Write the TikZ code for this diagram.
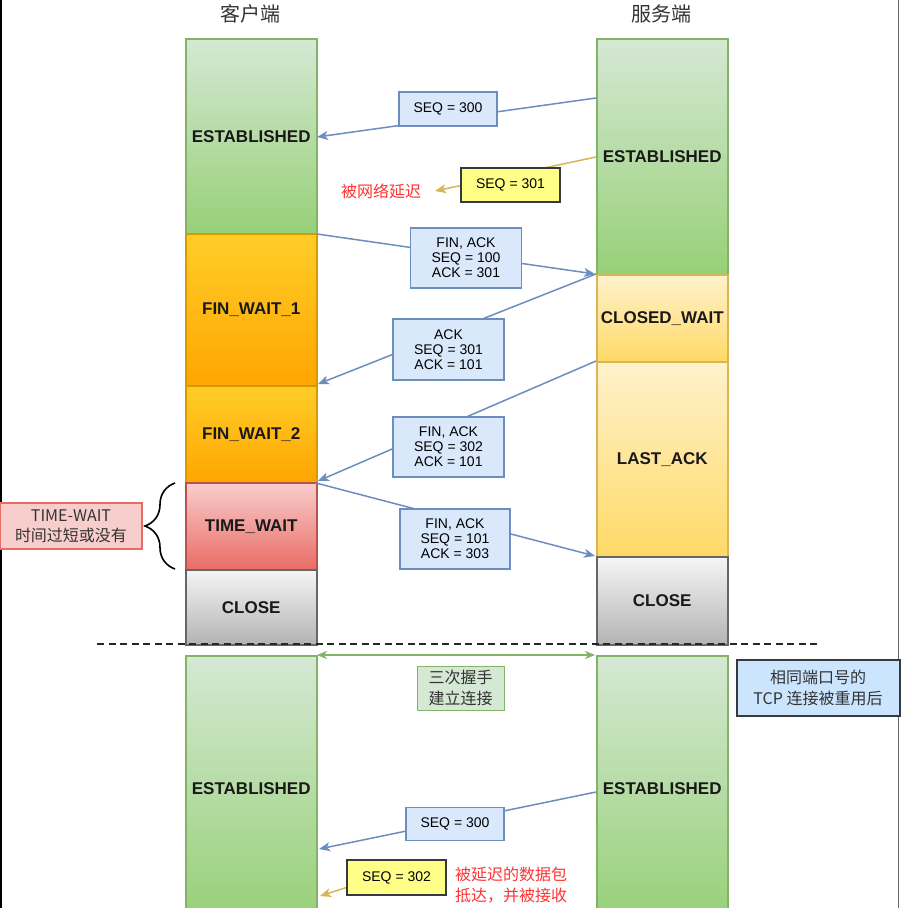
\documentclass[tikz,border=0pt]{standalone}
\usepackage{fontspec}
\setmainfont{Liberation Sans}
\newfontfamily\cjk{Noto Sans CJK SC}
\usetikzlibrary{arrows.meta,decorations.pathreplacing}
\definecolor{grnT}{HTML}{D5E8D4}\definecolor{grnBo}{HTML}{97D077}\definecolor{grnD}{HTML}{82B366}
\definecolor{orT}{HTML}{FFCD28}\definecolor{orBo}{HTML}{FFA500}\definecolor{orD}{HTML}{D79B00}
\definecolor{ylT}{HTML}{FFF2CC}\definecolor{ylBo}{HTML}{FFD966}\definecolor{ylD}{HTML}{D6B656}
\definecolor{rdT}{HTML}{F8CECC}\definecolor{rdBo}{HTML}{EA6B66}\definecolor{rdD}{HTML}{B85450}
\definecolor{gyT}{HTML}{F5F5F5}\definecolor{gyBo}{HTML}{B3B3B3}\definecolor{gyD}{HTML}{666666}
\definecolor{blF}{HTML}{DAE8FC}\definecolor{blD}{HTML}{6C8EBF}\definecolor{blF2}{HTML}{CCE5FF}
\definecolor{ntF}{HTML}{FFFF88}\definecolor{ntD}{HTML}{36393D}
\definecolor{redtxt}{HTML}{FF3333}
\begin{document}
\begin{tikzpicture}[x=1pt,y=-1pt,
  col/.style={line width=1.5pt, minimum width=131pt, inner sep=0pt, anchor=north west,
    font=\bfseries\fontsize{17}{20}\selectfont, text=black!90},
  gst/.style={col, draw=grnD, top color=grnT, bottom color=grnBo},
  ost/.style={col, draw=orD, top color=orT, bottom color=orBo},
  yst/.style={col, draw=ylD, top color=ylT, bottom color=ylBo},
  rst/.style={col, draw=rdD, top color=rdT, bottom color=rdBo},
  cst/.style={col, draw=gyD, top color=gyT, bottom color=gyBo},
  msgbox/.style={draw=blD, fill=blF, line width=1.5pt, inner sep=0pt, align=center,
    font=\fontsize{14}{15}\selectfont},
  notebox/.style={draw=ntD, fill=ntF, line width=1.5pt, inner sep=0pt, align=center,
    font=\fontsize{14}{15}\selectfont},
  msg/.style={draw=blD, line width=1.5pt, -{Stealth[length=11pt,width=9pt,inset=3pt]}},
  gmsg/.style={draw=ylD, line width=1.5pt, -{Stealth[length=11pt,width=9pt,inset=3pt]}},
  title/.style={font=\cjk\fontsize{20}{24}\selectfont, text=black!80},
  redlabel/.style={font=\cjk\fontsize{16}{21}\selectfont, text=redtxt, align=left},
]
\clip (0,0) rectangle (902,908);
\fill[white] (0,0) rectangle (902,908);
\draw[black, line width=2pt] (1,0) -- (1,908);
\draw[black!60, line width=1pt] (898,0) -- (898,908);

% titles
\node[title] (tc) at (250,14) {客户端};
\node[title] (ts) at (661,14) {服务端};

% client column
\node[gst, minimum height=195] (c1) at (185,38) {ESTABLISHED};
\node[ost, minimum height=152] (c2) at (185,233) {FIN\_WAIT\_1};
\node[ost, minimum height=97] (c3) at (185,385) {FIN\_WAIT\_2};
\node[rst, minimum height=87] (c4) at (185,482) {TIME\_WAIT};
\node[cst, minimum height=75] (c5) at (185,569) {CLOSE};

% server column
\node[gst, minimum height=236] (s1) at (596,38) {ESTABLISHED};
\node[yst, minimum height=87] (s2) at (596,274) {CLOSED\_WAIT};
\node[yst, minimum height=195] (s3) at (596,361) {LAST\_ACK};
\node[cst, minimum height=88] (s4) at (596,556) {CLOSE};

% connectors
\coordinate (a1s) at (596,98);  \coordinate (a1c) at (317,137);
\coordinate (a2s) at (596,157); \coordinate (a2e) at (435,191);
\coordinate (a3c) at (317,234); \coordinate (a3s) at (595,274);
\coordinate (a4s) at (596,274); \coordinate (a4c) at (318,384);
\coordinate (a5s) at (596,361); \coordinate (a5c) at (318,481);
\coordinate (a6c) at (316,483); \coordinate (a6s) at (595,556);
\draw[msg] (a1s) -- (a1c);
\draw[gmsg] (a2s) -- (a2e);
\draw[msg] (a3c) -- (a3s);
\draw[msg] (a4s) -- (a4c);
\draw[msg] (a5s) -- (a5c);
\draw[msg] (a6c) -- (a6s);

% message boxes
\node[msgbox, minimum width=98, minimum height=34] (m1) at (448,109) {SEQ = 300};
\node[notebox, minimum width=99, minimum height=34] (m2) at (510.5,185) {SEQ = 301};
\node[redlabel] (l1) at (381,191) {被网络延迟};
\node[msgbox, minimum width=111, minimum height=60] (m3) at (466,258) {FIN, ACK\\SEQ = 100\\ ACK = 301};
\node[msgbox, minimum width=111, minimum height=61] (m4) at (448.5,349.5) {ACK\\SEQ = 301\\ ACK = 101};
\node[msgbox, minimum width=111, minimum height=60] (m5) at (448.5,447) {FIN, ACK\\SEQ = 302\\ ACK = 101};
\node[msgbox, minimum width=110, minimum height=60] (m6) at (455,539) {FIN, ACK\\SEQ = 101\\ ACK = 303};

% TIME-WAIT note and brace
\node[draw=rdBo, fill=rdT, line width=1.2pt, minimum width=142, minimum height=46, inner sep=0pt,
  align=center, font=\cjk\fontsize{16}{20}\selectfont, text=black!80] (tw) at (71,526) {TIME-WAIT\\时间过短或没有};
\coordinate (br1) at (175,569); \coordinate (br2) at (175,483);
\draw[line width=1.6pt, decorate, decoration={brace, amplitude=30pt}] (br1) -- (br2);

% dashed separator
\coordinate (d1) at (97,644); \coordinate (d2) at (818,644);
\draw[line width=2pt, dash pattern=on 7pt off 4.5pt, black!85] (d1) -- (d2);

% lower part
\node[gst, minimum height=265] (c6) at (185,655) {ESTABLISHED};
\node[gst, minimum height=265] (s6) at (596,655) {ESTABLISHED};
\coordinate (h1) at (317,655); \coordinate (h2) at (595,655);
\draw[draw=grnD, line width=1.5pt, {Stealth[length=10pt,width=8pt,inset=3pt]}-{Stealth[length=10pt,width=8pt,inset=3pt]}] (h1) -- (h2);
\node[draw=grnD, fill=grnT, line width=1pt, minimum width=87, minimum height=44, inner sep=0pt,
  align=center, font=\cjk\fontsize{16}{21}\selectfont, text=black!80] (hs) at (460.5,688) {三次握手\\建立连接};
\node[draw=ntD, fill=blF2, line width=2pt, minimum width=163, minimum height=56, inner sep=0pt,
  align=center, font=\cjk\fontsize{16}{21}\selectfont, text=black!80] (re) at (818,688) {相同端口号的\\TCP 连接被重用后};

\coordinate (b1s) at (596,792); \coordinate (b1c) at (319,849);
\coordinate (b2s) at (348,887); \coordinate (b2c) at (320,896);
\draw[msg] (b1s) -- (b1c);
\draw[gmsg] (b2s) -- (b2c);
\node[msgbox, minimum width=98, minimum height=33] (m7) at (455,824) {SEQ = 300};
\node[notebox, minimum width=99, minimum height=35] (m8) at (396.5,877.5) {SEQ = 302};
\node[redlabel, anchor=west, inner sep=0pt] (l2) at (455,885) {被延迟的数据包\\抵达，并被接收};
\end{tikzpicture}
\end{document}
